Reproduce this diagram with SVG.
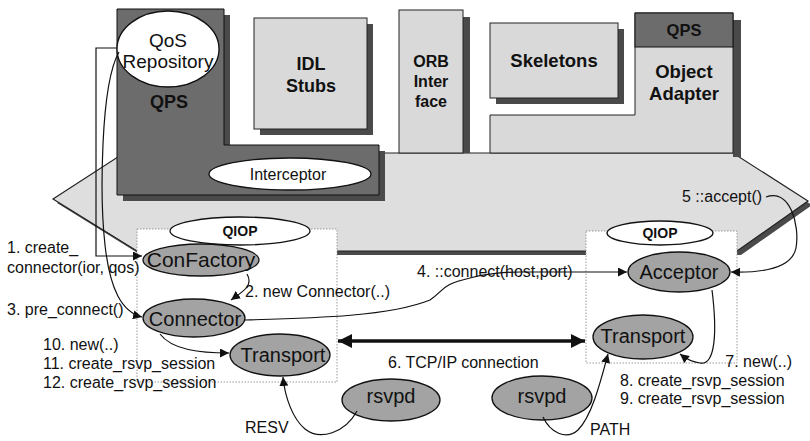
<svg xmlns="http://www.w3.org/2000/svg" width="810" height="441" viewBox="0 0 810 441">
<style>
  text { font-family: "Liberation Sans", Arial, sans-serif; fill: #111; }
  .lbl { font-size: 16px; }
  .b { font-weight: bold; }
  .mid { text-anchor: middle; }
  .box { fill: #d9d9d9; stroke: #222; stroke-width: 1; }
  .shadow { fill: #4a4a4a; }
  .qps { fill: #6c6c6c; stroke: #111; stroke-width: 1; }
  .white-ell { fill: #fff; stroke: #111; stroke-width: 1.3; }
  .node { fill: #a3a3a3; stroke: #111; stroke-width: 1.3; }
  .qiop-box { fill: #fff; stroke: #999; stroke-width: 1; stroke-dasharray: 1.5 1.5; }
  .conn { fill: none; stroke: #111; stroke-width: 1.2; }
  .nt { font-size: 20px; }
</style>
<defs>
  <marker id="ah" viewBox="0 0 10 10" refX="10" refY="5" markerWidth="9" markerHeight="9" markerUnits="userSpaceOnUse" orient="auto">
    <path d="M0,0 L10,5 L0,10 z" fill="#111"/>
  </marker>
  <marker id="ahBig" viewBox="0 0 10 10" refX="10" refY="5" markerWidth="18" markerHeight="14" markerUnits="userSpaceOnUse" orient="auto-start-reverse">
    <path d="M0,0 L10,5 L0,10 z" fill="#111"/>
  </marker>
</defs>

<rect width="810" height="441" fill="#fff"/>

<!-- ORB core band -->
<g id="n-orb-core">
  <polygon points="57,203 127,157 737,157 812,205 741,255 141,255" fill="#4a4a4a"/>
  <polygon points="53,199 124,153 733,153 808,201 737,251 137,251" fill="#dedede" stroke="#222" stroke-width="1.2"/>
</g>

<!-- QPS L-shape -->
<g id="n-qps">
  <polygon class="shadow" points="123,15 230,15 230,151 385,151 385,201 123,201"/>
  <polygon class="qps" points="117,9 224,9 224,145 379,145 379,195 117,195"/>
  <text class="b mid" x="169" y="108" font-size="18">QPS</text>
</g>

<!-- QoS Repository -->
<g id="n-qos-repo">
  <ellipse class="white-ell" cx="168" cy="49" rx="51" ry="38"/>
  <text class="mid" x="168" y="47" font-size="19">QoS</text>
  <text class="mid" x="168" y="68" font-size="19">Repository</text>
</g>

<!-- IDL Stubs -->
<g id="n-idl-stubs">
  <rect class="shadow" x="260" y="24" width="113" height="111"/>
  <rect class="box" x="254" y="18" width="113" height="111"/>
  <text class="b mid" x="311" y="70" font-size="18">IDL</text>
  <text class="b mid" x="311" y="92" font-size="18">Stubs</text>
</g>

<!-- ORB Interface -->
<g id="n-orb-interface">
  <rect class="shadow" x="405" y="17" width="65" height="136"/>
  <rect class="box" x="399" y="10" width="64" height="143"/>
  <text class="b mid" x="431" y="67" font-size="16">ORB</text>
  <text class="b mid" x="431" y="87" font-size="16">Inter</text>
  <text class="b mid" x="431" y="107" font-size="16">face</text>
</g>

<!-- Skeletons -->
<g id="n-skeletons">
  <rect class="shadow" x="496" y="29" width="128" height="75"/>
  <rect class="box" x="490" y="23" width="128" height="75"/>
  <text class="b mid" x="554" y="67" font-size="18.5">Skeletons</text>
</g>

<!-- Object Adapter with QPS -->
<g id="n-object-adapter">
  <rect class="shadow" x="733" y="20" width="8" height="137"/>
  <polygon class="box" points="490,115 635,115 635,13 733,13 733,153 490,153"/>
  <rect class="qps" x="635" y="13" width="98" height="34"/>
  <text class="b mid" x="684" y="36" font-size="16.5">QPS</text>
  <text class="b mid" x="684" y="78" font-size="18.5">Object</text>
  <text class="b mid" x="684" y="100" font-size="18.5">Adapter</text>
</g>

<!-- Interceptor -->
<g id="n-interceptor">
  <ellipse class="white-ell" cx="290" cy="174" rx="81" ry="16"/>
  <text class="mid" x="288" y="180" font-size="16">Interceptor</text>
</g>

<!-- Left QIOP -->
<g id="n-qiop-left">
  <rect class="qiop-box" x="137" y="229" width="200" height="153"/>
  <ellipse class="white-ell" cx="240" cy="231" rx="70" ry="14"/>
  <text class="b mid" x="240" y="236" font-size="14">QIOP</text>
</g>

<!-- Right QIOP -->
<g id="n-qiop-right">
  <rect class="qiop-box" x="586" y="231" width="151" height="132"/>
  <ellipse class="white-ell" cx="660" cy="233" rx="53" ry="12"/>
  <text class="b mid" x="660" y="238" font-size="14">QIOP</text>
</g>

<g id="n-confactory">
  <ellipse class="node" cx="201" cy="260" rx="58" ry="16"/>
  <text class="mid" x="201" y="267" font-size="21">ConFactory</text>
</g>
<g id="n-connector">
  <ellipse class="node" cx="194" cy="318" rx="51" ry="19"/>
  <text class="mid nt" x="195" y="326">Connector</text>
</g>
<g id="n-transport-left">
  <ellipse class="node" cx="280" cy="355" rx="50" ry="21"/>
  <text class="mid nt" x="283" y="362">Transport</text>
</g>
<g id="n-rsvpd-left">
  <ellipse class="node" cx="391" cy="400" rx="49" ry="21"/>
  <text class="mid nt" x="391" y="403">rsvpd</text>
</g>
<g id="n-acceptor">
  <ellipse class="node" cx="679" cy="272" rx="51" ry="20"/>
  <text class="mid nt" x="679" y="279">Acceptor</text>
</g>
<g id="n-transport-right">
  <ellipse class="node" cx="643" cy="337" rx="50" ry="22"/>
  <text class="mid nt" x="643" y="343">Transport</text>
</g>
<g id="n-rsvpd-right">
  <ellipse class="node" cx="542" cy="398" rx="50" ry="22"/>
  <text class="mid nt" x="542" y="403">rsvpd</text>
</g>

<!-- Connectors -->
<g id="connectors">
  <!-- 1. create_connector -->
  <path class="conn" d="M117,48 L96,48 L96,256 L142,256" marker-end="url(#ah)"/>
  <!-- 3. pre_connect -->
  <path class="conn" d="M119,52 C100,85 100,200 105,245 C110,290 122,312 142,317" marker-end="url(#ah)"/>
  <!-- 2. new Connector -->
  <path class="conn" d="M247,274 C254,286 242,292 231,300" marker-end="url(#ah)"/>
  <!-- 4. ::connect -->
  <path class="conn" d="M245,320 C320,318 390,316 430,300 C445,290 440,285 470,278 C490,273 505,272 520,272 L627,272" marker-end="url(#ah)"/>
  <!-- 5 ::accept -->
  <path class="conn" d="M766,197 C790,188 800,225 796,248 C792,268 765,273 731,272" marker-end="url(#ah)"/>
  <!-- 7. new -->
  <path class="conn" d="M712,290 C717,330 716,366 700,363 C692,362 685,358 680,354" marker-end="url(#ah)"/>
  <!-- 10. new -->
  <path class="conn" d="M160,334 C172,350 200,353 229,353" marker-end="url(#ah)"/>
  <!-- RESV -->
  <path class="conn" d="M357,411 C345,433 320,441 305,429 C293,419 285,398 283,377" marker-end="url(#ah)"/>
  <!-- PATH -->
  <path class="conn" d="M543,417 C550,432 566,441 578,430 C592,416 601,380 608,354" marker-end="url(#ah)"/>
  <!-- 6. TCP/IP -->
  <path d="M338,341 L585,341" fill="none" stroke="#111" stroke-width="3.5" marker-start="url(#ahBig)" marker-end="url(#ahBig)"/>
</g>

<!-- Labels -->
<g id="labels">
  <text class="lbl" x="7" y="253">1. create_</text>
  <text class="lbl" x="7" y="273">connector(ior, qos)</text>
  <text class="lbl" x="7" y="315">3. pre_connect()</text>
  <text class="lbl" x="245" y="297">2. new Connector(..)</text>
  <text class="lbl" x="43" y="350">10. new(..)</text>
  <text class="lbl" x="43" y="369">11. create_rsvp_session</text>
  <text class="lbl" x="43" y="388">12. create_rsvp_session</text>
  <text class="lbl" x="388" y="368">6. TCP/IP connection</text>
  <text class="lbl" x="417" y="277">4. ::connect(host,port)</text>
  <text class="lbl" x="682" y="202">5 ::accept()</text>
  <text class="lbl" x="792" y="367" text-anchor="end">7. new(..)</text>
  <text class="lbl" x="620" y="386">8. create_rsvp_session</text>
  <text class="lbl" x="620" y="404">9. create_rsvp_session</text>
  <text class="lbl" x="245" y="433">RESV</text>
  <text class="lbl" x="590" y="435">PATH</text>
</g>
</svg>
